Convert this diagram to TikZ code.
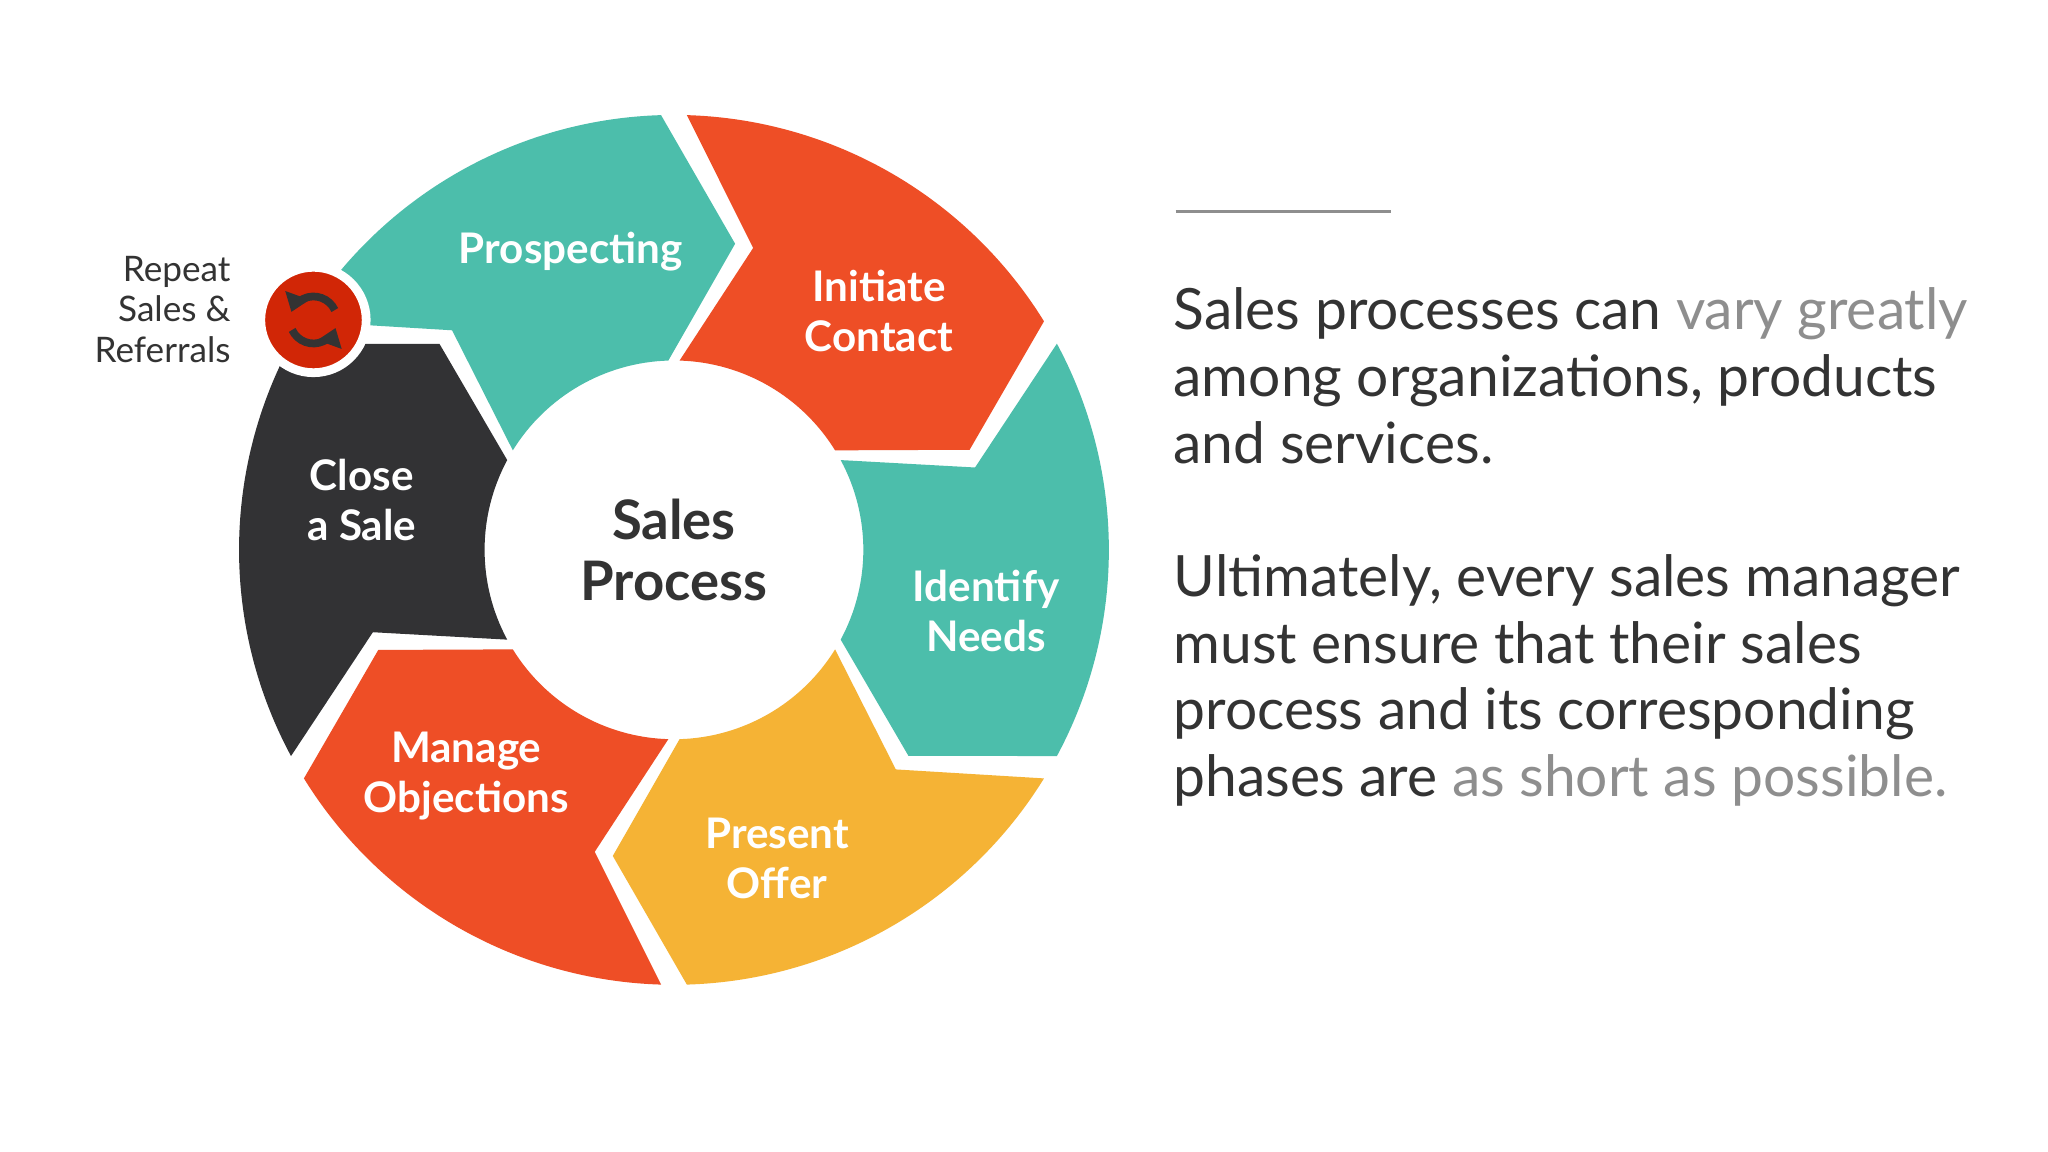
\documentclass[tikz,border=0pt]{standalone}
\usepackage{fontspec}
\setmainfont{Lato}
\usetikzlibrary{arrows.meta}
\definecolor{teal}{HTML}{4CBEAB}
\definecolor{red}{HTML}{EE4E26}
\definecolor{yel}{HTML}{F5B335}
\definecolor{dark}{HTML}{323234}
\definecolor{txt}{HTML}{333333}
\definecolor{hl}{HTML}{8E8E8E}
\tikzset{seglabel/.style={text=white,font=\fontsize{12}{14.2}\selectfont\bfseries,align=center},
 body/.style={text=txt,font=\fontsize{16.2}{19}\selectfont,align=left,anchor=north west,inner sep=0pt}}
\newcommand{\seg}[3]{%
 \fill[#3] (#1-1.7:333) arc[start angle=#1-1.7,end angle=#2+1.7,radius=333]
  -- (#2+1.7-13:239) -- (#2+1.7:145) arc[start angle=#2+1.7,end angle=#1-1.7,radius=145]
  -- (#1-1.7-13:239) -- cycle;}
\begin{document}
\begin{tikzpicture}[x=0.01306cm,y=0.01306cm]
\useasboundingbox (0,0) rectangle (1568,882);
\fill[white] (0,0) rectangle (1568,882);
\coordinate (c) at (516,461);
\begin{scope}[shift={(c)}]
\seg{150}{90}{teal}
\seg{90}{30}{red}
\seg{30}{-30}{teal}
\seg{-30}{-90}{yel}
\seg{-90}{-150}{red}
\seg{-150}{-210}{dark}
\end{scope}
\node[seglabel] (p) at (437,689) {Prospecting};
\node[seglabel] (ic) at (673,644) {Initiate\\Contact};
\node[seglabel] (in) at (755,414) {Identify\\Needs};
\node[seglabel] (po) at (595,225) {Present\\Offer};
\node[seglabel] (mo) at (357,288) {Manage\\Objections};
\node[seglabel] (cs) at (277,499) {Close\\a Sale};
\node[text=txt,font=\fontsize{15.5}{17.5}\selectfont\bfseries,align=center] (sp) at (516,461) {Sales\\Process};
% repeat icon
\node[circle,fill={rgb,255:red,224;green,224;blue,228},draw=white,line width=2.5pt,minimum size=30pt] (ic2) at (240,637) {};
\draw[txt,line width=2.2pt,-{Triangle[length=5pt,width=7pt]}] (ic2.center) ++(25:18) arc[start angle=25,end angle=160,radius=18];
\draw[txt,line width=2.2pt,-{Triangle[length=5pt,width=7pt]}] (ic2.center) ++(205:18) arc[start angle=205,end angle=340,radius=18];
\node[text=txt,font=\fontsize{10}{11.6}\selectfont,align=right,anchor=east] (rs) at (186,645) {Repeat\\Sales \&\\Referrals};
% right side
\coordinate (l1) at (900,720);
\coordinate (l2) at (1065,720);
\draw[hl,line width=0.8pt] (l1) -- (l2);
\node[body] (t1) at (898,662) {Sales processes can \textcolor{hl}{vary greatly}\\among organizations, products\\and services.};
\node[body] (t2) at (898,458) {Ultimately, every sales manager\\must ensure that their sales\\process and its corresponding\\phases are \textcolor{hl}{as short as possible.}};
\end{tikzpicture}
\end{document}
